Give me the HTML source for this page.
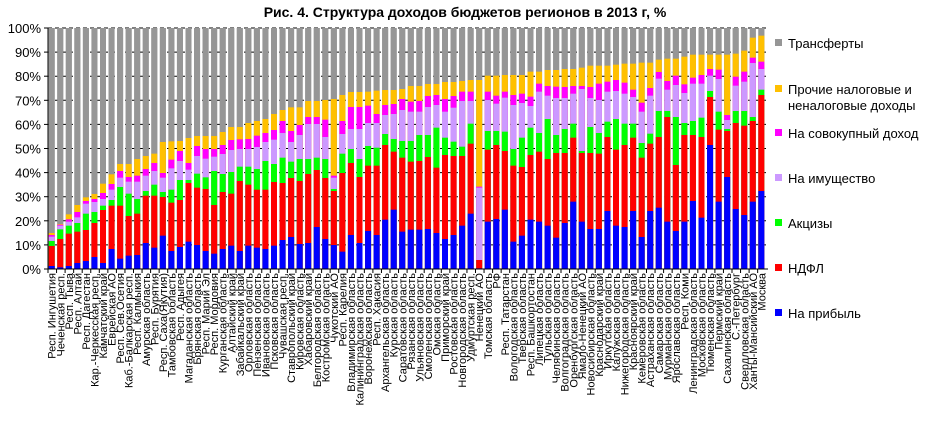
<!DOCTYPE html>
<html><head><meta charset="utf-8"><style>
html,body{margin:0;padding:0;background:#fff;width:930px;height:425px;overflow:hidden}
svg{display:block}
text{font-family:"Liberation Sans",sans-serif}
</style></head><body>
<svg id="s" width="930" height="425" xmlns="http://www.w3.org/2000/svg">
<text x="465" y="17" text-anchor="middle" font-size="14" font-weight="bold">Рис. 4. Структура доходов бюджетов регионов в 2013 г, %</text>
<g id="g"></g>
<rect x="775" y="39" width="7" height="7" fill="#969696"/><text x="788" y="48" font-size="13">Трансферты</text>
<rect x="775" y="85" width="7" height="7" fill="#FFC000"/><text x="788" y="94" font-size="13">Прочие налоговые и</text><text x="788" y="110" font-size="13">неналоговые доходы</text>
<rect x="775" y="129" width="7" height="7" fill="#FF00FF"/><text x="788" y="138" font-size="13">На совокупный доход</text>
<rect x="775" y="174" width="7" height="7" fill="#CC99FF"/><text x="788" y="183" font-size="13">На имущество</text>
<rect x="775" y="219" width="7" height="7" fill="#00FF00"/><text x="788" y="228" font-size="13">Акцизы</text>
<rect x="775" y="264" width="7" height="7" fill="#FF0000"/><text x="788" y="273" font-size="13">НДФЛ</text>
<rect x="775" y="309" width="7" height="7" fill="#0000FF"/><text x="788" y="318" font-size="13">На прибыль</text>
</svg>
<script>
(function(){
var D=[
[738,678,663,650,645,639],[742,657,628,617,614,612],[738,641,617,605,598,583],[729,635,609,592,576,555],
[723,630,581,551,543,532],[711,609,576,546,537,522],[729,570,557,537,519,491],[687,557,540,509,492,463],
[716,557,501,473,453,432],[707,588,521,485,471,432],[705,581,537,485,467,417],[669,527,513,467,447,408],
[683,527,494,453,429,401],[647,531,516,473,459,366],[693,548,509,445,419,364],[681,540,480,423,393,363],
[665,489,480,449,429,354],[675,503,461,408,378,348],[693,507,472,416,387,348],[701,555,453,410,387,348],
[687,516,462,402,375,336],[677,521,456,390,360,321],[693,483,440,387,358,321],[677,494,440,387,357,309],
[683,509,447,381,347,303],[687,509,423,366,339,297],[677,486,432,359,330,282],[660,489,413,339,303,270],
[651,474,425,366,333,262],[672,483,417,345,315,262],[669,462,417,312,291,243],[621,450,413,312,291,243],
[657,474,417,351,299,240],[675,513,507,473,467,237],[695,459,401,342,303,225],[645,429,387,327,261,216],
[669,471,417,327,261,216],[633,437,378,309,257,215],[645,437,383,309,282,212],[599,375,342,285,255,210],
[569,395,357,282,252,210],[635,413,363,270,237,207],[629,425,363,275,245,198],[629,423,345,275,243,198],
[627,411,345,261,228,192],[639,443,323,255,225,192],[657,405,353,275,237,186],[645,408,365,263,228,186],
[617,408,380,243,215,183],[581,371,311,243,215,180],[745,720,720,503,500,180],[605,389,333,240,215,167],
[597,375,333,251,227,167],
[569,393,335,233,215,165],[665,437,387,255,225,165],[647,441,353,249,221,165],[599,405,323,258,230,155],
[605,395,339,215,191,155],[617,417,297,227,198,150],[653,399,345,234,200,150],[609,399,327,234,201,147],
[545,353,311,221,198,147],[605,399,393,207,198,143],[627,399,321,234,201,137],[627,401,339,240,191,137],
[573,351,305,215,185,137],[617,389,297,213,180,134],[621,375,311,221,188,131],[573,353,311,231,209,131],
[651,413,369,275,248,128],[573,371,341,227,204,128],[563,351,273,176,156,119],[605,291,273,209,183,116],
[633,435,291,195,167,116],[605,345,309,219,193,110],[543,345,303,191,173,104],[593,351,293,191,165,104],
[375,231,213,167,147,104],[545,329,275,177,149,104],[471,333,327,300,285,104],[567,309,273,197,170,101],
[585,317,273,185,155,92],[545,303,291,129,113,53],[513,225,209,147,125,47]];
var L=["Респ. Ингушетия","Чеченская респ.","Респ. Тыва","Респ. Алтай","Респ. Дагестан","Кар.-Черкесская респ.","Камчатский край","Еврейская АО","Респ. Сев.Осетия","Каб.-Балкарская респ.","Респ. Калмыкия","Амурская область","Респ. Бурятия","Респ. Саха(Якутия)","Тамбовская область","Респ. Адыгея","Магаданская область","Брянская область","Респ. Марий Эл","Респ. Мордовия","Курганская область","Алтайский край","Забайкальский край","Орловская область","Пензенская область","Ивановская область","Псковская область","Чувашская респ.","Ставропольский край","Кировская область","Хабаровский край","Белгородская область","Костромская область","Чукотский АО","Респ. Карелия","Владимирская область","Калининградская область","Воронежская область","Респ. Хакасия","Архангельская область","Курская область","Саратовская область","Рязанская область","Ульяновская область","Смоленская область","Омская область","Приморский край","Ростовская область","Новгородская область","Удмуртская респ.","Ненецкий АО","Томская область","РФ","Респ. Татарстан","Вологодская область","Тверская область","Респ. Башкортостан","Липецкая область","Тульская область","Челябинская область","Волгоградская область","Оренбургская область","Ямало-Ненецкий АО","Новосибирская область","Краснодарский край","Иркутская область","Калужская область","Нижегородская область","Красноярский край","Кемеровская область","Астраханская область","Самарская область","Мурманская область","Ярославская область","Респ. Коми","Ленинградская область","Московская область","Тюменская область","Пермский край","Сахалинская область","С.-Петербург","Свердловская область","Ханты-Мансийский АО","Москва"];
var C=["#0000FF","#FF0000","#00FF00","#CC99FF","#FF00FF","#FFC000"];
var h='',ptop=28,bot=269,x0=48,x1=768;
for(var b=0;b<84;b++){var cx=51.7+8.55*b,lx=cx-3;
 h+='<rect x="'+lx+'" y="'+ptop+'" width="6" height="'+(bot-ptop)+'" fill="#969696"/>';}
for(var i=0;i<=10;i++){var y=bot-(bot-ptop)*i/10;
 if(i>0)h+='<line x1="'+x0+'" x2="'+x1+'" y1="'+y+'" y2="'+y+'" stroke="#000" stroke-dasharray="4,3"/>';
 h+='<line x1="44" x2="48" y1="'+y+'" y2="'+y+'" stroke="#000"/>';
 h+='<text x="41" y="'+(y+5)+'" font-size="13" text-anchor="end">'+(i*10)+'%</text>';}
for(var b=0;b<84;b++){var cx=51.7+8.55*b,lx=cx-3;
 h+='<rect x="'+lx+'" y="'+ptop+'" width="6" height="'+(bot-ptop)+'" fill="#969696"/>';
 var d=D[b];
 for(var k=5;k>=0;k--){var t=20+d[k]/3;h+='<rect x="'+lx+'" y="'+t+'" width="6" height="'+Math.max(0,bot-t)+'" fill="'+C[k]+'"/>';}
 var tx=x0+8.55*b;h+='<line x1="'+tx+'" x2="'+tx+'" y1="'+bot+'" y2="'+(bot+4)+'" stroke="#000"/>';
 h+='<text transform="translate('+(cx+4)+',273) rotate(-90)" font-size="11" text-anchor="end">'+L[b]+'</text>';}
h+='<line x1="'+x0+'" x2="'+x0+'" y1="'+ptop+'" y2="'+bot+'" stroke="#000"/>';
h+='<line x1="'+x0+'" x2="'+x1+'" y1="'+bot+'" y2="'+bot+'" stroke="#000"/>';
document.getElementById('g').innerHTML=h;
})();
</script>
</body></html>
